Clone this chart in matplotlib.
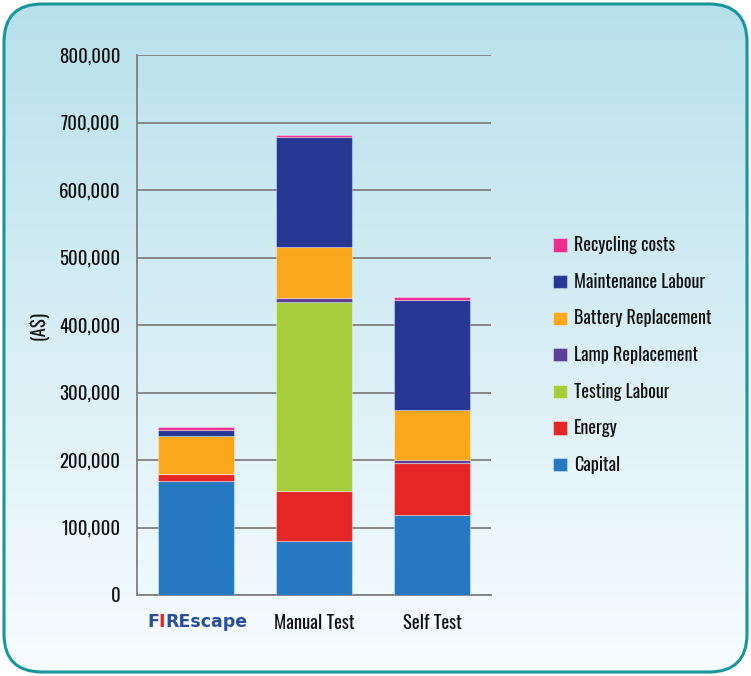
import matplotlib
matplotlib.use("Agg")
import matplotlib.pyplot as plt
import numpy as np
from matplotlib.patches import FancyBboxPatch
from matplotlib.ticker import FuncFormatter
from matplotlib import font_manager as fm
import logging
logging.getLogger("matplotlib.font_manager").setLevel(logging.ERROR)

categories = ["FIREscape", "Manual Test", "Self Test"]
series_names = ["Capital", "Energy", "Testing Labour", "Lamp Replacement",
                "Battery Replacement", "Maintenance Labour", "Recycling costs"]
capital = [169000, 80000, 119000]
energy = [10000, 74000, 76000]
testing_labour = [0, 280500, 0]
lamp_replacement = [1000, 5000, 4500]
battery_replacement = [55500, 75500, 74500]
maintenance_labour = [9000, 163000, 163000]
recycling_costs = [4000, 3000, 4000]
y_ticks = [0, 100000, 200000, 300000, 400000, 500000, 600000, 700000, 800000]

series = [capital, energy, testing_labour, lamp_replacement,
          battery_replacement, maintenance_labour, recycling_costs]
colors = ["#2479c1", "#e52625", "#a8cd3a", "#5b3f98", "#fba71b", "#263893", "#ec2d90"]

available = {f.name for f in fm.fontManager.ttflist}
cands = ["Oswald", "Roboto Condensed", "Barlow Condensed", "Archivo Narrow",
         "Asap Condensed", "Liberation Sans Narrow", "DejaVu Sans"]
FONT = [c for c in cands if c in available] or ["DejaVu Sans"]
FONT = [FONT[0], "DejaVu Sans"] if FONT[0] != "DejaVu Sans" else ["DejaVu Sans"]
plt.rcParams['font.family'] = FONT
plt.rcParams['font.weight'] = 500

W, H = 751, 676
fig = plt.figure(figsize=(W / 100, H / 100), dpi=100)
fig.patch.set_facecolor("white")

# background gradient inside rounded box
bg = fig.add_axes([0, 0, 1, 1], zorder=-10)
bg.set_xlim(0, W)
bg.set_ylim(0, H)
bg.axis("off")
grad = np.linspace(0, 1, 256).reshape(-1, 1)
top = np.array([0.72, 0.88, 0.92])
bot = np.array([0.97, 0.99, 1.0])
img = top[None, None, :] * (1 - grad[:, :, None]) + bot[None, None, :] * grad[:, :, None]
box = FancyBboxPatch((4, 4), W - 8, H - 8, boxstyle="round,pad=0,rounding_size=38",
                     facecolor="none", edgecolor="#17969b", linewidth=2.2, zorder=2)
bg.add_patch(box)
im = bg.imshow(img, extent=[4, W - 4, 4, H - 4], origin="upper", aspect="auto", zorder=1)
im.set_clip_path(box)

# main axes
left, right, top_px, bottom_px = 137, 491, 55, 595
ax = fig.add_axes([left / W, 1 - bottom_px / H, (right - left) / W, (bottom_px - top_px) / H])
ax.patch.set_alpha(0)
x = np.arange(len(categories))
bottom = np.zeros(len(categories))
handles = []
for name, vals, c in zip(series_names, series, colors):
    b = ax.bar(x, vals, 0.645, bottom=bottom, color=c, label=name,
               edgecolor=(1, 1, 1, 0.35), linewidth=0.8, zorder=3)
    handles.append(b)
    bottom += np.array(vals)

ax.set_xlim(-0.5, 2.5)
ax.set_ylim(0, 800000)
ax.set_yticks(y_ticks)
ax.yaxis.set_major_formatter(FuncFormatter(lambda v, p: f"{int(v):,}"))
ax.grid(axis="y", color="#808080", linewidth=1.3, zorder=0)
ax.set_axisbelow(True)
for s in ["top", "right"]:
    ax.spines[s].set_visible(False)
for s in ["left", "bottom"]:
    ax.spines[s].set_color("#808080")
    ax.spines[s].set_linewidth(1.3)
ax.tick_params(axis="both", length=0, labelsize=13.5, colors="#111111")
ax.tick_params(axis="y", pad=12)
ax.tick_params(axis="x", pad=14)
ax.set_xticks(x)
ax.set_xticklabels([""] + categories[1:])
ax.set_ylabel("(A$)", fontsize=13.5, color="#111111")
ax.yaxis.set_label_coords((49 - left) / (right - left), 0.5)

# FIREscape logo-like label as real text (F, red I, REscape)
logo_kw = dict(fontsize=12.5, fontweight="bold", family=["DejaVu Sans"], va="center",
               ha="left", xycoords=ax.get_xaxis_transform(), textcoords="offset points")
fig.canvas.draw()
r = fig.canvas.get_renderer()
parts = [("F", "#2a4e9c"), ("I", "#e52625"), (categories[0][2:], "#2a4e9c")]
tmp = [ax.annotate(t, (0, 0), **logo_kw) for t, _ in parts]
widths = [t.get_window_extent(r).width for t in tmp]
for t in tmp:
    t.remove()
total = sum(widths) * 0.97
off = -total / 2
for (t, c), w in zip(parts, widths):
    ax.annotate(t, (0, 0), xytext=(off * 0.72, -27 * 0.72), color=c, **logo_kw)
    off += w * 0.97

leg = fig.legend(handles[::-1], series_names[::-1], loc="upper left",
                 bbox_to_anchor=(537 / W, 1 - 220 / H), frameon=False,
                 fontsize=13, handlelength=0.75, handleheight=0.75,
                 handletextpad=0.4, labelspacing=1.03)
for t in leg.get_texts():
    t.set_color("#111111")

fig.savefig("out.png", dpi=100)
